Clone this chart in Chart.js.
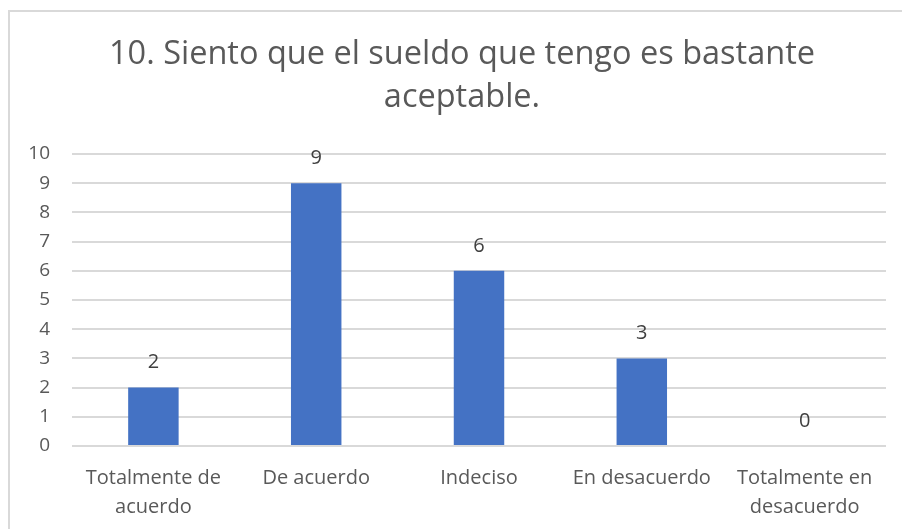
<!DOCTYPE html>
<html>
<head>
<meta charset="utf-8">
<script src="https://cdn.jsdelivr.net/npm/chart.js@4/dist/chart.umd.min.js"></script>
<style>
  body { margin: 0; background: #fff; overflow: hidden; }
  #wrap { position: relative; width: 902px; height: 529px; }
  #frame { position: absolute; left: 8px; top: 10px; width: 1000px; height: 600px; border: 2px solid #d9d9d9; box-sizing: border-box; }
  canvas { position: absolute; left: 0; top: 0; }
</style>
</head>
<body>
<div id="wrap">
  <div id="frame"></div>
  <canvas id="chart" width="902" height="529"></canvas>
</div>
<script>
const titleLines = ['10. Siento que el sueldo que tengo es bastante', 'aceptable.'];
const categories = [
  ['Totalmente de', 'acuerdo'],
  'De acuerdo',
  'Indeciso',
  'En desacuerdo',
  ['Totalmente en', 'desacuerdo']
];
const responses = [2, 9, 6, 3, 0];
const yTicks = [0, 1, 2, 3, 4, 5, 6, 7, 8, 9, 10];

const fontFamily = '"Open Sans", Lato, sans-serif';

// Two-line chart title, centred a little right of the canvas middle
const chartTitle = {
  id: 'chartTitle',
  afterDraw(chart) {
    const ctx = chart.ctx;
    ctx.save();
    ctx.font = '32.5px ' + fontFamily;
    ctx.fillStyle = '#595959';
    ctx.textAlign = 'center';
    ctx.textBaseline = 'middle';
    titleLines.forEach((line, i) => ctx.fillText(line, 462, 55 + i * 43));
    ctx.restore();
  }
};

// Value labels above each bar
const valueLabels = {
  id: 'valueLabels',
  afterDatasetsDraw(chart) {
    const ctx = chart.ctx;
    const meta = chart.getDatasetMeta(0);
    ctx.save();
    ctx.font = '20px ' + fontFamily;
    ctx.fillStyle = '#404040';
    ctx.textAlign = 'center';
    ctx.textBaseline = 'middle';
    meta.data.forEach((bar, i) => {
      ctx.fillText(String(responses[i]), bar.x, bar.y - 25);
    });
    ctx.restore();
  }
};

new Chart(document.getElementById('chart'), {
  type: 'bar',
  data: {
    labels: categories,
    datasets: [{
      data: responses,
      backgroundColor: '#4472c4',
      barPercentage: 0.31,
      categoryPercentage: 1
    }]
  },
  options: {
    responsive: false,
    animation: false,
    layout: { padding: { left: 0, right: 16, top: 154, bottom: 0 } },
    plugins: {
      legend: { display: false },
      tooltip: { enabled: false },
      title: { display: false }
    },
    scales: {
      x: {
        grid: { display: false, drawTicks: false },
        border: { display: false },
        ticks: {
          color: '#595959',
          font: { family: fontFamily, size: 20, lineHeight: 1.45 },
          padding: 18,
          maxRotation: 0,
          autoSkip: false
        },
        afterFit(axis) { axis.height = 83; }
      },
      y: {
        min: 0,
        max: 10,
        afterBuildTicks(axis) { axis.ticks = yTicks.map(v => ({ value: v })); },
        grid: { color: '#d9d9d9', lineWidth: 2, drawTicks: false },
        border: { display: false },
        ticks: {
          color: '#595959',
          font: { family: fontFamily, size: 19 },
          padding: 22
        },
        afterFit(axis) { axis.width = 72; }
      }
    }
  },
  plugins: [valueLabels, chartTitle]
});
</script>
</body>
</html>
